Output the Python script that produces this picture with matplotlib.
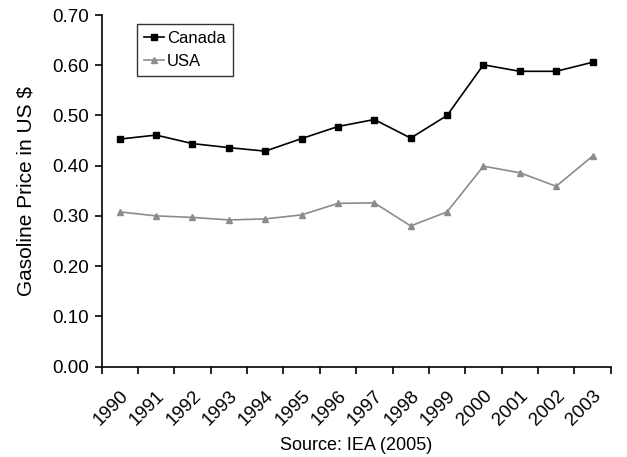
import matplotlib
matplotlib.use("Agg")
import matplotlib.pyplot as plt
import numpy as np

years = ["1990", "1991", "1992", "1993", "1994", "1995", "1996",
         "1997", "1998", "1999", "2000", "2001", "2002", "2003"]
canada = [0.453, 0.461, 0.444, 0.436, 0.429, 0.454, 0.478,
          0.492, 0.455, 0.500, 0.601, 0.588, 0.588, 0.606]
usa = [0.308, 0.300, 0.297, 0.292, 0.294, 0.302, 0.325,
       0.326, 0.280, 0.308, 0.399, 0.386, 0.359, 0.419]
y_ticks = [0.0, 0.1, 0.2, 0.3, 0.4, 0.5, 0.6, 0.7]

plt.rcParams["font.family"] = ["Liberation Sans", "DejaVu Sans"]

fig = plt.figure(figsize=(6.27, 4.57), dpi=100)
ax = fig.add_axes([0.162, 0.198, 0.812, 0.769])

x = np.arange(len(years))
ax.plot(x, canada, color="black", marker="s", markersize=4, linewidth=1.2,
        label="Canada")
ax.plot(x, usa, color="#8c8c8c", marker="^", markersize=4.5, linewidth=1.2,
        label="USA")

ax.set_xlim(-0.5, len(years) - 0.5)
ax.set_ylim(0, 0.70)
ax.set_yticks(y_ticks)
ax.set_yticklabels([f"{v:.2f}" for v in y_ticks], fontsize=13.5)

# category boundaries carry the ticks, labels sit at category centres
ax.set_xticks(np.arange(len(years) + 1) - 0.5)
ax.set_xticklabels([])
ax.set_xticks(x, minor=True)
ax.set_xticklabels(years, minor=True, rotation=45, ha="right",
                   rotation_mode="anchor", fontsize=13.5)
ax.tick_params(axis="x", which="minor", length=0, pad=15)
ax.tick_params(axis="x", which="major", length=5, width=1.2)
ax.tick_params(axis="y", length=5, width=1.2, pad=4)

for s in ("top", "right"):
    ax.spines[s].set_visible(False)
for s in ("left", "bottom"):
    ax.spines[s].set_linewidth(1.2)

ax.set_ylabel("Gasoline Price in US $", fontsize=15, labelpad=12)
ax.set_xlabel("Source: IEA (2005)", fontsize=13, labelpad=6)

leg = ax.legend(loc="upper left", bbox_to_anchor=(0.07, 0.974), fontsize=12,
                frameon=True, fancybox=False, edgecolor="black",
                handlelength=1.2, handletextpad=0.2, borderpad=0.4,
                labelspacing=0.5, borderaxespad=0)
leg.get_frame().set_linewidth(1.0)

fig.savefig("out.png", dpi=100)
